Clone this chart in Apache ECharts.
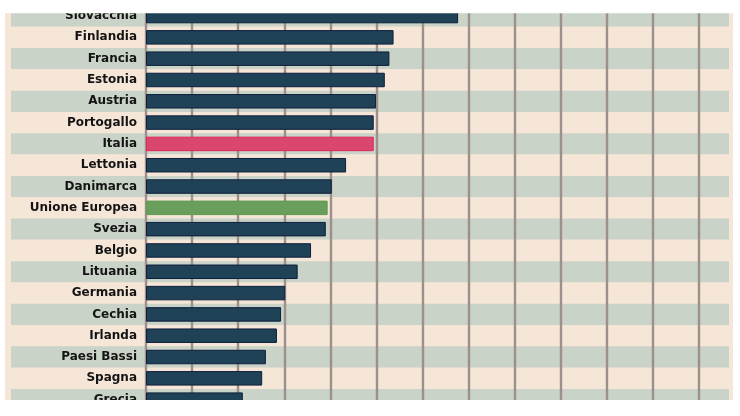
<!DOCTYPE html>
<html>
<head>
<meta charset="utf-8">
<script src="https://cdn.jsdelivr.net/npm/echarts@6/dist/echarts.min.js"></script>
<style>
  html, body { margin: 0; padding: 0; background: #ffffff; }
  #chart { width: 740px; height: 416px; }
</style>
</head>
<body>
<div id="chart"></div>
<script>
const countries = [
  'Slovacchia', 'Finlandia', 'Francia', 'Estonia', 'Austria', 'Portogallo',
  'Italia', 'Lettonia', 'Danimarca', 'Unione Europea', 'Svezia', 'Belgio',
  'Lituania', 'Germania', 'Cechia', 'Irlanda', 'Paesi Bassi', 'Spagna', 'Grecia',
];
const values = [
  6.77, 5.37, 5.28, 5.18, 4.99, 4.94,
  4.94, 4.34, 4.03, 3.94, 3.90, 3.58,
  3.29, 3.02, 2.93, 2.84, 2.60, 2.52, 2.10,
];

const BAR = '#1f4257';
const BAR_EDGE = '#0d1f3c';
const HIGHLIGHT = { 'Italia': ['#d9476c', '#e0245c'], 'Unione Europea': ['#6a9e5c', '#5c9a4c'] };

const chart = echarts.init(document.getElementById('chart'));

const barData = countries.map((name, i) => {
  const h = HIGHLIGHT[name];
  return {
    value: values[i],
    itemStyle: h ? { color: h[0], borderColor: h[1] } : undefined,
  };
});

chart.setOption({
  animation: false,
  grid: [
    { left: 11, right: 11, top: 5.4, bottom: 5.7 },
    { left: 146, right: 40.8, top: 5.4, bottom: 5.7 },
  ],
  xAxis: [
    { gridIndex: 0, type: 'value', min: 0, max: 1, show: false },
    {
      gridIndex: 1, type: 'value', min: 0, max: 12, interval: 1, z: 1,
      axisLine: { show: false }, axisTick: { show: false }, axisLabel: { show: false },
      splitLine: { show: true, lineStyle: { color: '#9e8f8c', width: 2.4 } },
    },
  ],
  yAxis: [
    {
      gridIndex: 0, type: 'category', data: countries, inverse: true, z: 0,
      axisLine: { show: false }, axisTick: { show: false }, axisLabel: { show: false },
      splitArea: { show: true, areaStyle: { color: ['#c9d3c7', '#f5e6d8'] } },
    },
    {
      gridIndex: 1, type: 'category', data: countries, inverse: true, z: 3,
      axisLine: { show: false }, axisTick: { show: false },
      axisLabel: {
        margin: 9, color: '#141414', fontFamily: 'DejaVu Sans',
        fontWeight: 'bold', fontSize: 12, padding: [2, 0, 0, 0],
      },
    },
  ],
  graphic: [
    { type: 'rect', z: -10, shape: { x: 5, y: 0, width: 728, height: 416 }, style: { fill: '#f5e6d8' } },
    { type: 'rect', z: 100, shape: { x: 0, y: 0, width: 740, height: 13.3 }, style: { fill: '#ffffff' } },
    { type: 'rect', z: 100, shape: { x: 0, y: 400, width: 740, height: 16 }, style: { fill: '#ffffff' } },
  ],
  series: [
    {
      type: 'bar', xAxisIndex: 1, yAxisIndex: 1, z: 2,
      data: barData, barWidth: '68%',
      itemStyle: { color: BAR, borderColor: BAR_EDGE, borderWidth: 1 },
    },
  ],
});
</script>
</body>
</html>
